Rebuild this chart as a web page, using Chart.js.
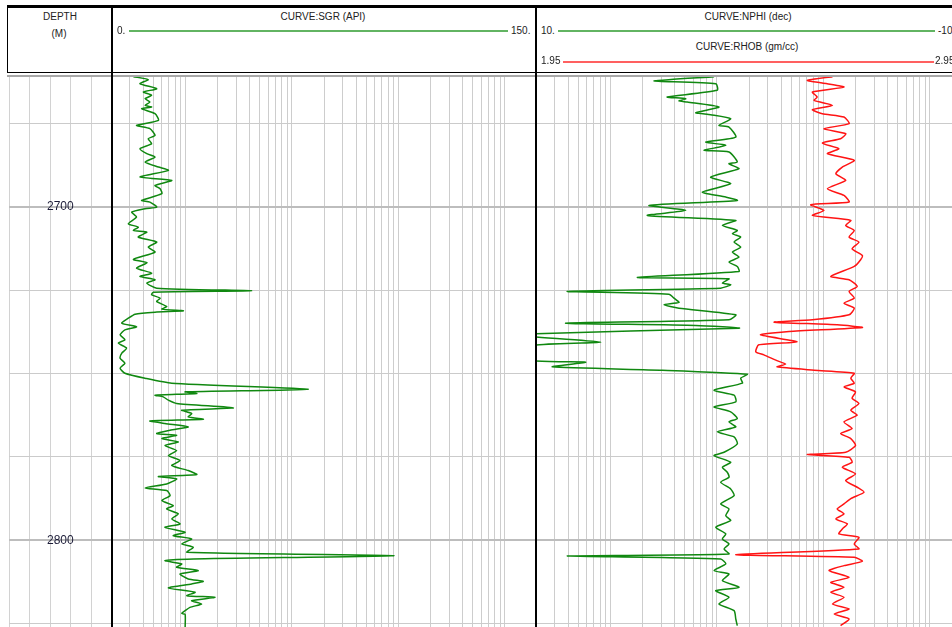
<!DOCTYPE html>
<html><head><meta charset="utf-8">
<script src="https://cdn.jsdelivr.net/npm/chart.js@4.4.1/dist/chart.umd.min.js"></script>
<style>
html,body{margin:0;padding:0;background:#fff;overflow:hidden;}
#page{position:relative;width:952px;height:627px;overflow:hidden;font-family:"Liberation Sans",Arial,sans-serif;font-size:10px;color:#222;}
.t{position:absolute;white-space:nowrap;line-height:12px;}
.c{transform:translateX(-50%);}
.ln{position:absolute;}
.trk{position:absolute;top:77px;height:550px;}
.trk canvas{display:block;}
</style></head><body><div id="page">

<div class="trk" style="left:9px;width:103px;"><canvas id="cDepth" width="103" height="550"></canvas></div>
<div class="trk" style="left:111px;width:426px;"><canvas id="cSgr" width="426" height="550"></canvas></div>
<div class="trk" style="left:536px;width:426px;"><canvas id="cNphi" width="426" height="550"></canvas></div>

<!-- frame -->
<div class="ln" style="left:7px;top:5px;width:945px;height:3px;background:#000;"></div>
<div class="ln" style="left:7px;top:5px;width:1px;height:68px;background:#000;"></div>
<div class="ln" style="left:7px;top:72px;width:945px;height:1px;background:#000;"></div>
<div class="ln" style="left:7px;top:75px;width:945px;height:2px;background:#a8a8a8;"></div>
<div class="ln" style="left:111px;top:5px;width:2px;height:622px;background:#000;"></div>
<div class="ln" style="left:535px;top:5px;width:2px;height:622px;background:#000;"></div>

<!-- header texts -->
<div class="t c" style="left:60px;top:11px;">DEPTH</div>
<div class="t c" style="left:59px;top:28px;">(M)</div>

<div class="t c" style="left:323px;top:11px;">CURVE:SGR (API)</div>
<div class="t" style="left:117px;top:25px;">0.</div>
<div class="ln" style="left:129px;top:30px;width:379px;height:2px;background:#62b462;"></div>
<div class="t" style="left:511px;top:25px;">150.</div>

<div class="t c" style="left:748px;top:11px;">CURVE:NPHI (dec)</div>
<div class="t" style="left:541px;top:25px;">10.</div>
<div class="ln" style="left:558px;top:30px;width:377px;height:2px;background:#62b462;"></div>
<div class="t" style="left:938px;top:25px;">-10.</div>

<div class="t c" style="left:747px;top:41px;">CURVE:RHOB (gm/cc)</div>
<div class="t" style="left:541px;top:55px;">1.95</div>
<div class="ln" style="left:563px;top:61px;width:371px;height:2px;background:#ff6060;"></div>
<div class="t" style="left:935px;top:55px;">2.95</div>

</div>
<script>
// ---------------- data ----------------
const depthTop = 2661.1;   // depth at top of the plot
const depthBase = 2826.0;  // depth at bottom of the plot

const sgrScale = [0, 150];
const nphiScale = [10, -10];
const rhobScale = [1.95, 2.95];

const sgrDepth = [
 2661.0,2661.9,2663.1,2664.6,2665.6,2666.6,2667.6,2668.6,2669.6,2670.1,
 2670.6,2672.1,2674.1,2675.6,2676.6,2678.6,2679.6,2681.1,2682.6,2684.1,
 2685.1,2686.6,2688.1,2689.1,2691.1,2692.1,2693.6,2694.6,2696.1,2698.1,
 2698.6,2700.1,2700.6,2701.6,2703.1,2705.1,2706.1,2707.1,2707.6,2709.1,
 2710.6,2712.1,2713.6,2715.8,2716.8,2718.4,2719.9,2720.9,2721.9,2722.9,
 2724.4,2725.2,2725.6,2726.4,2727.4,2728.4,2729.9,2730.7,2731.2,2731.6,
 2732.2,2733.4,2734.9,2736.0,2736.9,2738.4,2739.9,2740.9,2742.4,2743.9,
 2745.4,2746.9,2748.4,2749.9,2751.4,2752.9,2754.7,2755.5,2756.0,2756.5,
 2757.0,2758.0,2759.0,2760.3,2761.0,2762.0,2763.0,2763.7,2764.2,2765.0,
 2766.0,2767.0,2768.0,2768.5,2769.5,2770.5,2771.6,2773.1,2774.6,2776.1,
 2777.6,2779.1,2780.3,2780.9,2781.6,2783.1,2784.3,2785.1,2786.6,2788.1,
 2789.6,2790.6,2792.1,2793.6,2795.1,2796.1,2797.6,2798.6,2799.6,2801.1,
 2802.1,2803.6,2804.6,2805.6,2806.1,2807.1,2808.1,2809.1,2810.1,2811.6,
 2812.3,2813.1,2814.3,2815.6,2816.6,2817.1,2818.1,2819.1,2820.1,2821.1,
 2821.9,2822.2,2826.1
];
const sgrValue = [
 7.9,13.1,10.2,16.1,11.4,14.3,12.0,13.7,12.0,14.3,
 10.8,15.5,16.7,9.0,13.7,15.5,13.1,14.3,10.2,12.6,
 15.5,12.0,16.7,20.2,10.2,21.4,15.5,17.3,17.9,10.8,
 13.7,16.1,12.0,7.3,9.0,6.1,9.6,7.9,12.6,9.6,
 16.1,13.1,15.5,7.9,12.7,9.0,14.3,10.2,15.5,12.6,
 16.1,49.5,14.9,14.3,17.3,16.1,19.6,17.9,25.5,15.5,
 8.5,6.1,3.8,9.0,4.9,3.2,4.9,2.6,5.5,3.8,
 3.2,4.9,3.2,4.9,12.0,21.4,69.4,26.1,30.2,15.5,
 18.4,20.2,23.1,43.1,24.9,28.4,27.2,32.5,13.7,19.0,
 27.2,20.8,16.1,23.1,17.9,23.7,19.0,23.1,20.2,24.3,
 21.4,27.2,30.2,16.7,23.1,19.6,12.0,19.6,20.8,17.9,
 21.9,19.6,23.7,21.4,24.3,19.0,26.1,21.9,28.4,24.9,
 29.0,26.7,99.6,29.0,19.0,24.9,23.1,30.7,24.3,27.2,
 32.5,28.4,20.2,29.6,26.7,36.6,28.4,31.9,27.8,26.1,
 24.9,26.1,26.1
];

const nphiDepth = [
 2661.0,2662.3,2663.1,2665.1,2667.1,2667.6,2668.3,2668.6,2670.1,2671.8,
 2672.4,2673.6,2675.6,2676.1,2679.1,2680.6,2681.6,2683.1,2683.6,2686.6,
 2687.1,2688.6,2691.1,2693.1,2695.6,2697.1,2698.1,2699.6,2701.1,2702.6,
 2704.1,2705.6,2707.1,2708.1,2709.1,2710.6,2712.1,2713.6,2715.1,2716.6,
 2717.9,2719.4,2721.2,2721.6,2722.9,2723.4,2724.4,2725.4,2726.2,2727.4,
 2728.7,2729.4,2730.4,2732.4,2733.9,2734.9,2735.6,2736.4,2738.1,2738.9,
 2740.6,2741.7,2746.0,2746.6,2748.0,2749.0,2750.2,2751.4,2752.9,2755.0,
 2756.5,2758.5,2760.0,2761.5,2763.5,2764.5,2766.0,2767.5,2769.0,2771.1,
 2773.6,2774.6,2776.6,2778.1,2779.6,2781.1,2782.6,2784.6,2786.6,2789.1,
 2790.6,2792.6,2794.1,2796.1,2798.1,2799.6,2801.1,2802.6,2804.1,2804.7,
 2805.6,2807.1,2809.1,2810.1,2812.1,2814.1,2815.1,2817.1,2819.1,2821.1,
 2823.6,2825.6
];
const nphiValue = [
 1.64,4.46,1.56,1.49,3.84,2.97,3.29,2.90,1.41,2.50,
 1.80,0.86,1.41,0.94,0.62,2.03,1.09,2.11,0.94,0.55,
 0.94,0.47,1.80,0.86,2.19,1.09,0.55,4.69,2.97,4.77,
 0.62,1.25,0.55,0.78,0.39,0.70,0.39,0.78,0.47,0.94,
 0.55,0.47,5.24,0.94,1.25,0.86,1.33,8.53,3.76,3.52,
 3.29,3.99,3.29,0.62,0.94,8.61,2.50,0.47,10.3,10.3,
 6.96,10.3,10.3,7.67,9.23,4.07,0.08,0.39,0.31,1.64,
 0.70,0.62,1.64,0.86,0.55,0.94,0.62,1.49,0.70,0.55,
 1.17,1.64,0.86,1.25,1.02,0.94,1.33,0.86,0.70,1.33,
 0.94,1.09,0.86,1.56,1.09,1.25,0.94,1.17,0.94,8.53,
 1.33,1.09,1.64,0.94,1.25,0.47,1.56,0.94,1.41,0.70,
 0.62,0.55
];

const rhobDepth = [
 2661.0,2662.1,2662.9,2664.1,2665.6,2667.1,2668.1,2669.6,2670.9,2672.1,
 2673.1,2675.1,2676.6,2678.1,2679.6,2680.9,2682.6,2684.1,2686.1,2688.1,
 2690.1,2692.1,2694.6,2696.6,2698.6,2699.4,2701.1,2702.6,2704.1,2705.6,
 2707.1,2709.1,2710.6,2712.6,2714.6,2715.9,2717.9,2720.9,2721.9,2723.9,
 2725.4,2727.4,2728.9,2730.4,2732.4,2733.9,2734.6,2735.4,2736.2,2737.4,
 2738.4,2740.5,2741.4,2743.5,2744.4,2746.0,2747.2,2748.0,2749.0,2749.9,
 2751.4,2752.9,2754.0,2755.5,2757.4,2759.0,2761.0,2762.5,2764.5,2766.5,
 2768.0,2769.5,2771.6,2773.6,2774.3,2775.1,2776.6,2778.1,2780.1,2782.1,
 2784.1,2785.6,2787.5,2789.1,2790.6,2792.1,2793.6,2795.1,2796.6,2798.1,
 2799.1,2801.1,2802.6,2804.3,2805.1,2806.3,2807.6,2809.1,2811.1,2812.6,
 2814.1,2815.6,2817.1,2819.1,2820.6,2822.1,2823.6,2825.6
];
const rhobValue = [
 2.646,2.587,2.622,2.673,2.599,2.610,2.603,2.646,2.599,2.622,
 2.673,2.685,2.626,2.677,2.665,2.622,2.661,2.634,2.697,2.669,
 2.654,2.677,2.634,2.673,2.685,2.595,2.626,2.599,2.689,2.677,
 2.697,2.685,2.708,2.692,2.716,2.712,2.697,2.642,2.685,2.704,
 2.685,2.697,2.673,2.697,2.685,2.599,2.509,2.657,2.716,2.544,
 2.477,2.563,2.473,2.466,2.485,2.513,2.536,2.516,2.603,2.697,
 2.689,2.697,2.673,2.700,2.692,2.708,2.689,2.704,2.673,2.692,
 2.665,2.689,2.700,2.677,2.587,2.685,2.692,2.669,2.700,2.677,
 2.704,2.720,2.689,2.673,2.657,2.673,2.654,2.681,2.669,2.661,
 2.708,2.697,2.708,2.419,2.697,2.716,2.673,2.638,2.685,2.642,
 2.673,2.642,2.673,2.646,2.685,2.650,2.685,2.665
];

// ---------------- chart helpers ----------------
const FONT = '"Liberation Sans", Arial, sans-serif';
const GREEN = 'rgb(16,136,16)';
const RED = 'rgb(255,20,20)';

function zeroFit(s) { s.width = 0; s.paddingTop = 0; s.paddingBottom = 0; s.paddingLeft = 0; s.paddingRight = 0; }
function zeroFitH(s) { s.height = 0; s.paddingTop = 0; s.paddingBottom = 0; s.paddingLeft = 0; s.paddingRight = 0; }

function depthAxis(showLabels) {
  return {
    type: 'linear', reverse: true, min: depthTop, max: depthBase,
    border: { display: false },
    grid: {
      drawTicks: false,
      color: c => (c.tick && c.tick.value % 100 === 0) ? '#bdbdbd' : '#cbcbcb',
      lineWidth: c => (c.tick && c.tick.value % 100 === 0) ? 2 : 1
    },
    ticks: {
      display: showLabels, stepSize: 25, includeBounds: false,
      mirror: true, padding: 38, crossAlign: 'center',
      color: '#1c1c38', font: { family: FONT, size: 12 },
      callback: v => (v % 100 === 0 ? String(v) : '')
    },
    afterFit: zeroFit
  };
}

function logGridAxis() {
  return {
    type: 'logarithmic', min: 0.2, max: 2000, position: 'bottom',
    border: { display: false },
    grid: { drawTicks: false, color: '#cdcdcd', lineWidth: 1 },
    ticks: { display: false },
    afterBuildTicks: s => {
      const t = [];
      for (let e = -1; e <= 3; e++) for (let m = 1; m <= 9; m++) {
        const v = m * Math.pow(10, e);
        if (v > 0.2 + 1e-9 && v < 2000 - 1e-9) t.push({ value: v });
      }
      s.ticks = t;
    },
    afterFit: zeroFitH
  };
}

function hiddenLinear(min, max, reverse) {
  return { type: 'linear', min: min, max: max, reverse: !!reverse, display: false, position: 'bottom' };
}

function curve(depths, values, axisId, color) {
  return {
    data: depths.map((d, i) => ({ x: values[i], y: d })),
    xAxisID: axisId, yAxisID: 'y',
    borderColor: color, borderWidth: 1.5,
    pointRadius: 0, pointHoverRadius: 0, showLine: true, tension: 0.2, fill: false
  };
}

const common = {
  responsive: false, maintainAspectRatio: false, animation: false,
  events: [],
  layout: { padding: 0, autoPadding: false },
  plugins: { legend: { display: false }, tooltip: { enabled: false } }
};

// depth track
new Chart(document.getElementById('cDepth'), {
  type: 'scatter',
  data: { datasets: [] },
  options: Object.assign({}, common, {
    scales: {
      x: {
        type: 'linear', min: 0, max: 5, position: 'bottom',
        border: { display: false },
        grid: { drawTicks: false, color: '#d2d2d2', lineWidth: 1 },
        ticks: { display: false, stepSize: 1 },
        afterFit: zeroFitH
      },
      y: depthAxis(true)
    }
  })
});

// SGR track
new Chart(document.getElementById('cSgr'), {
  type: 'scatter',
  data: { datasets: [ curve(sgrDepth, sgrValue, 'xs', GREEN) ] },
  options: Object.assign({}, common, {
    scales: {
      xg: logGridAxis(),
      xs: hiddenLinear(sgrScale[0], sgrScale[1], false),
      y: depthAxis(false)
    }
  })
});

// NPHI / RHOB track
new Chart(document.getElementById('cNphi'), {
  type: 'scatter',
  data: { datasets: [
    curve(nphiDepth, nphiValue, 'xn', GREEN),
    curve(rhobDepth, rhobValue, 'xr', RED)
  ] },
  options: Object.assign({}, common, {
    scales: {
      xg: logGridAxis(),
      xn: hiddenLinear(nphiScale[1], nphiScale[0], true),
      xr: hiddenLinear(rhobScale[0], rhobScale[1], false),
      y: depthAxis(false)
    }
  })
});
</script>
</body></html>
